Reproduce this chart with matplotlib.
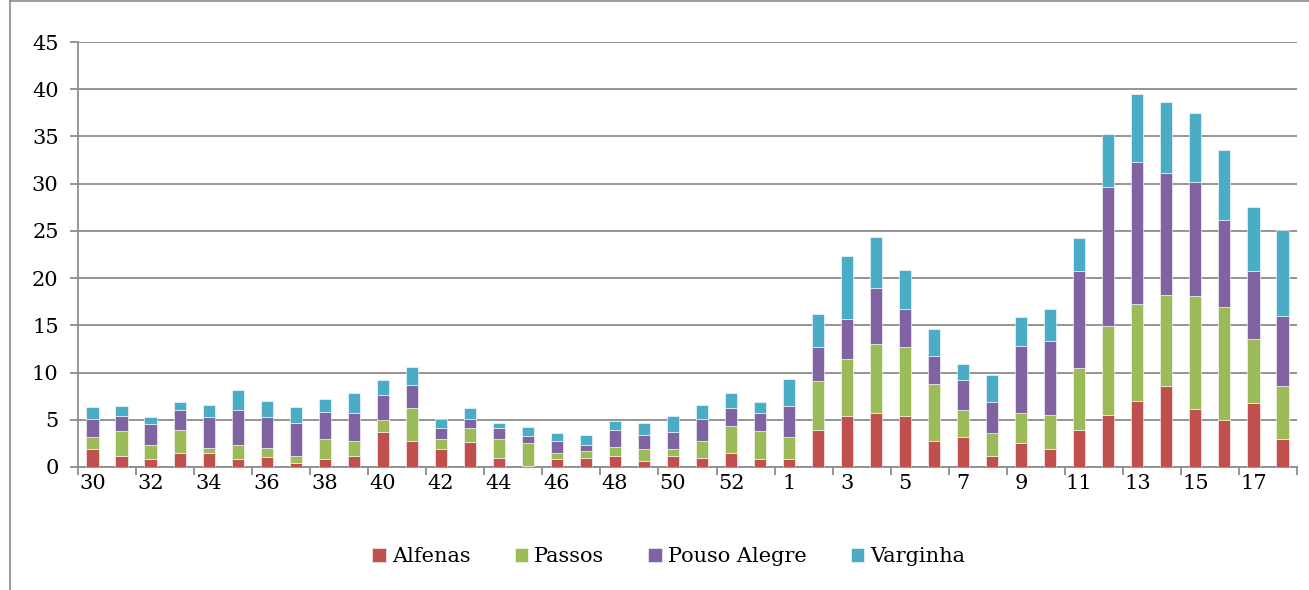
import matplotlib.pyplot as plt
import numpy as np

weeks = [str(w) for w in range(30, 54)] + [str(w) for w in range(1, 19)]

alfenas = [1.9, 1.2, 0.8, 1.5, 1.5, 0.8, 1.1, 0.4, 0.8, 1.2, 3.7, 2.8,
           1.9, 2.6, 1.0, 0.1, 0.8, 1.0, 1.2, 0.6, 1.2, 1.0, 1.5, 0.8,
           0.8, 3.9, 5.4, 5.7, 5.4, 2.8, 3.2, 1.2, 2.5, 1.9, 3.9, 5.5,
           7.0, 8.6, 6.1, 5.0, 6.8, 3.0]
passos = [1.3, 2.6, 1.5, 2.4, 0.5, 1.5, 0.9, 0.8, 2.2, 1.6, 1.3, 3.4,
          1.1, 1.5, 2.0, 2.4, 0.7, 0.7, 0.9, 1.3, 0.7, 1.8, 2.8, 3.0,
          2.4, 5.2, 6.0, 7.3, 7.3, 6.0, 2.8, 2.4, 3.2, 3.6, 6.6, 9.4,
          10.3, 9.6, 12.0, 11.9, 6.8, 5.6]
pouso_alegre = [1.9, 1.6, 2.2, 2.1, 3.3, 3.7, 3.3, 3.5, 2.8, 2.9, 2.6, 2.5,
                1.1, 1.0, 1.1, 0.8, 1.2, 0.6, 1.8, 1.5, 1.8, 2.3, 1.9, 1.9,
                3.3, 3.6, 4.3, 6.0, 4.0, 3.0, 3.2, 3.3, 7.1, 7.8, 10.3, 14.7,
                15.0, 12.9, 12.1, 9.3, 7.1, 7.4]
varginha = [1.3, 1.1, 0.8, 0.9, 1.3, 2.2, 1.7, 1.7, 1.4, 2.1, 1.6, 1.9,
            1.0, 1.1, 0.6, 0.9, 0.9, 1.1, 1.0, 1.3, 1.7, 1.5, 1.6, 1.2,
            2.8, 3.5, 6.6, 5.3, 4.2, 2.8, 1.7, 2.8, 3.1, 3.4, 3.4, 5.7,
            7.2, 7.5, 7.3, 7.4, 6.8, 9.1]

series = [('Alfenas', alfenas, '#C0504D'),
          ('Passos', passos, '#9BBB59'),
          ('Pouso Alegre', pouso_alegre, '#8064A2'),
          ('Varginha', varginha, '#4BACC6')]

plt.rcParams['font.family'] = ['DejaVu Serif']

fig = plt.figure(figsize=(13.09, 5.90), dpi=100)
ax = fig.add_axes([0.0596, 0.2085, 0.9312, 0.7203])

x = np.arange(len(weeks))
bottom = np.zeros(len(weeks))
for name, vals, color in series:
    ax.bar(x, vals, width=0.42, bottom=bottom, color=color, label=name,
           edgecolor='white', linewidth=0.4, zorder=3)
    bottom += np.array(vals)

ax.set_xlim(-0.5, len(weeks) - 0.5)
ax.set_ylim(0, 45)
ax.set_yticks(range(0, 50, 5))
ax.yaxis.grid(True, color='#8c8c8c', linewidth=1.3, zorder=0)

ax.set_xticks(x[::2])
ax.set_xticklabels(weeks[::2])
ax.set_xticks(np.arange(-0.5, len(weeks), 2), minor=True)
ax.tick_params(axis='x', which='major', length=0, labelsize=15, pad=5)
ax.tick_params(axis='x', which='minor', length=6, width=1.3, color='#8c8c8c')
ax.tick_params(axis='y', length=6, width=1.3, color='#8c8c8c', labelsize=15, pad=8)

for side in ['top', 'right']:
    ax.spines[side].set_visible(False)
for side in ['left', 'bottom']:
    ax.spines[side].set_color('#8c8c8c')
    ax.spines[side].set_linewidth(1.3)

fig.legend(loc='center', bbox_to_anchor=(0.511, 0.056), ncol=4, frameon=False,
           fontsize=15, handlelength=0.65, handleheight=0.65, handletextpad=0.3,
           columnspacing=2.1)

# outer chart frame
fig.add_artist(plt.Line2D([10 / 1309, 10 / 1309], [0, 1], color='#8c8c8c', linewidth=1.2))
fig.add_artist(plt.Line2D([10 / 1309, 1], [0.998, 0.998], color='#8c8c8c', linewidth=1.2))

fig.savefig('out.png', dpi=100)
